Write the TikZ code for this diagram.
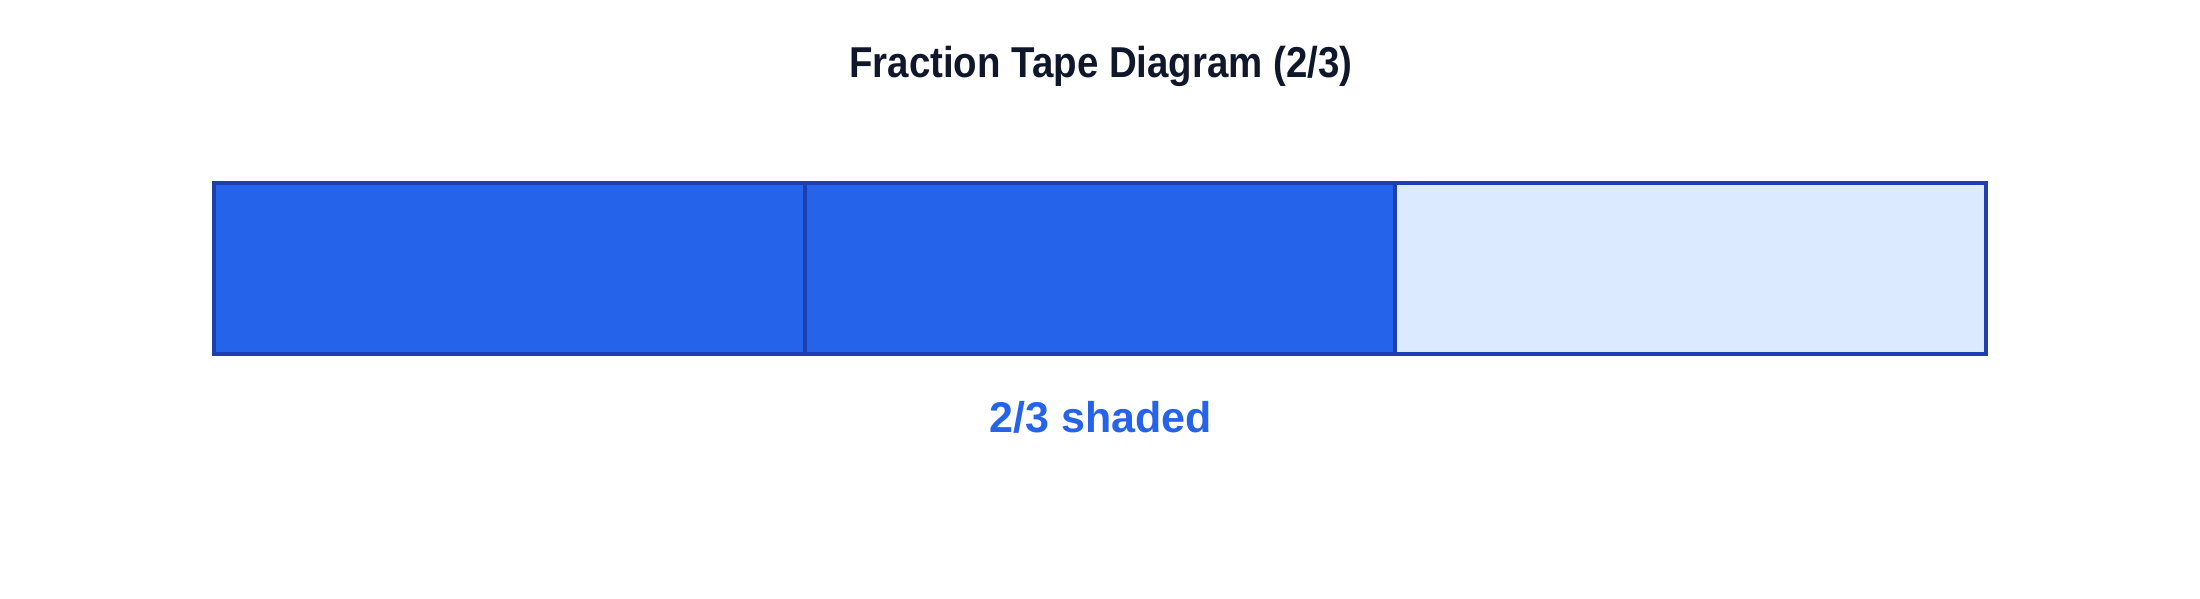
\documentclass[tikz,border=0pt]{standalone}
\usepackage{fontspec}
\setmainfont{Liberation Sans}
\newfontfamily\titlefont[FakeStretch=0.89]{Liberation Sans}
\usepackage{xcolor}
\definecolor{tapeblue}{HTML}{2563EB}
\definecolor{tapeedge}{HTML}{1E40AF}
\definecolor{tapelight}{HTML}{DBEAFE}
\definecolor{titleink}{HTML}{0F172A}
\usetikzlibrary{positioning}

\begin{document}
\begin{tikzpicture}[x=0.5pt,y=0.5pt,
		part/.style={draw=tapeedge,line width=2pt,inner sep=0pt,minimum width=295.25pt,minimum height=85.5pt}]
		  \useasboundingbox (0,0) rectangle (2200,599);
		  \node[anchor=base,text=titleink,font=\titlefont\bfseries\fontsize{21.6}{26}\selectfont] (title) at (1101,521) {Fraction Tape Diagram (2/3)};
		  \foreach \x /\alph/\shade in {
		  		509.25/s1/tapeblue,
		  		1099.75/s2/tapeblue,
		  		1690.25/s3/tapelight%
		  }{
		  	\node[part,fill=\shade] (\alph) at (\x,330.5) {};
		  }
		  \node[anchor=base,text=tapeblue,font=\bfseries\fontsize{21.5}{26}\selectfont] (caption) at (1101,166) {2/3 shaded};
		 \end{tikzpicture}
\end{document}
